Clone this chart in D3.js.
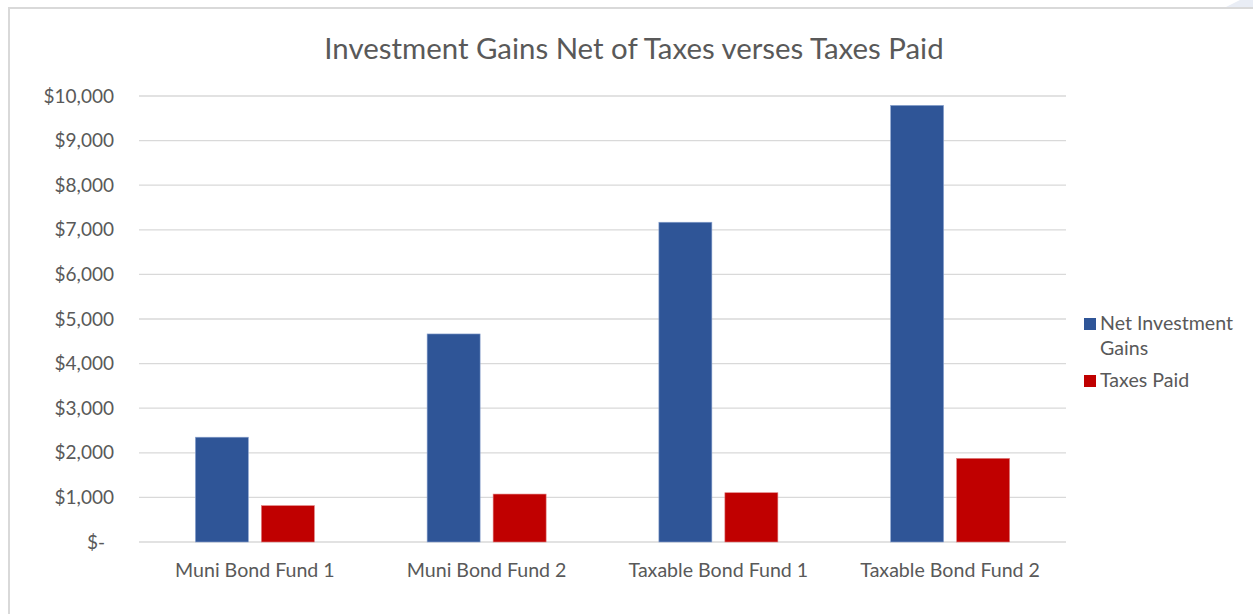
<!DOCTYPE html>
<html lang="en">
<head>
    <style>
        body { margin: 0; background: #fff; }
        text { font-family: Lato, "Open Sans", sans-serif; fill: #595959; }
    </style>
    <title>d3.js</title>
</head>
<body><script src="https://d3js.org/d3.v7.min.js"></script>
<div id="chart"></div>
<script>
const categories = ["Muni Bond Fund 1", "Muni Bond Fund 2", "Taxable Bond Fund 1", "Taxable Bond Fund 2"];
const seriesNames = ["Net Investment Gains", "Taxes Paid"];
const netGains = [2350, 4665, 7170, 9790];
const taxesPaid = [815, 1075, 1105, 1875];
const yTicks = [0, 1000, 2000, 3000, 4000, 5000, 6000, 7000, 8000, 9000, 10000];

const colors = ["#2F5597", "#C00000"];
const w = 1253, h = 614;
const plotLeft = 139, plotRight = 1066, plotTop = 96, plotBottom = 542;

const svg = d3.select("#chart")
    .append("svg")
    .attr("width", w)
    .attr("height", h);

// chart frame
svg.append("rect")
    .attr("x", 9).attr("y", 8)
    .attr("width", 1300).attr("height", 700)
    .attr("fill", "#fff")
    .attr("stroke", "#d9d9d9")
    .attr("stroke-width", 2);
svg.append("polygon")
    .attr("points", "1226,7 1240,0 1253,0 1253,7")
    .attr("fill", "#e9edf5");

const x = d3.scaleBand().domain(categories).range([plotLeft, plotRight]);
const y = d3.scaleLinear().domain([0, 10000]).range([plotBottom, plotTop]);

// gridlines
svg.append("g")
    .selectAll("line")
    .data(yTicks)
    .enter().append("line")
    .attr("x1", plotLeft).attr("x2", plotRight)
    .attr("y1", d => y(d)).attr("y2", d => y(d))
    .attr("stroke", "#d9d9d9")
    .attr("stroke-width", 1.3);

// y labels
const fmt = d3.format(",");
svg.append("g")
    .selectAll("text")
    .data(yTicks)
    .enter().append("text")
    .attr("x", d => d === 0 ? 105 : 114)
    .attr("y", d => y(d))
    .attr("dy", "0.35em")
    .attr("text-anchor", "end")
    .style("font-size", "19px")
    .text(d => d === 0 ? "$-" : "$" + fmt(d));

// bars
const barW = 53, gap = 13;
const series = [netGains, taxesPaid];
series.forEach(function(vals, s) {
    svg.append("g")
        .selectAll("rect")
        .data(vals)
        .enter().append("rect")
        .attr("x", (d, i) => x(categories[i]) + x.bandwidth() / 2 + (s === 0 ? -gap / 2 - barW : gap / 2))
        .attr("y", d => y(d))
        .attr("width", barW)
        .attr("height", d => plotBottom - y(d))
        .attr("fill", colors[s])
        .attr("stroke", s === 0 ? "#8ea6d0" : "#e08080")
        .attr("stroke-width", 0.6);
});

// x labels
svg.append("g")
    .selectAll("text")
    .data(categories)
    .enter().append("text")
    .attr("x", d => x(d) + x.bandwidth() / 2)
    .attr("y", 577)
    .attr("text-anchor", "middle")
    .style("font-size", "19.6px")
    .text(d => d);

// title
svg.append("text")
    .attr("x", 634)
    .attr("y", 59)
    .attr("text-anchor", "middle")
    .style("font-size", "29.4px")
    .text("Investment Gains Net of Taxes verses Taxes Paid");

// legend
const legend = svg.append("g");
legend.append("rect").attr("x", 1084).attr("y", 318).attr("width", 12).attr("height", 12).attr("fill", colors[0]);
legend.append("text").attr("x", 1100).attr("y", 330).style("font-size", "19.6px").text("Net Investment");
legend.append("text").attr("x", 1100).attr("y", 355).style("font-size", "19.6px").text("Gains");
legend.append("rect").attr("x", 1084).attr("y", 375).attr("width", 12).attr("height", 12).attr("fill", colors[1]);
legend.append("text").attr("x", 1100).attr("y", 387).style("font-size", "19.6px").text(seriesNames[1]);
</script>
</body>
</html>
